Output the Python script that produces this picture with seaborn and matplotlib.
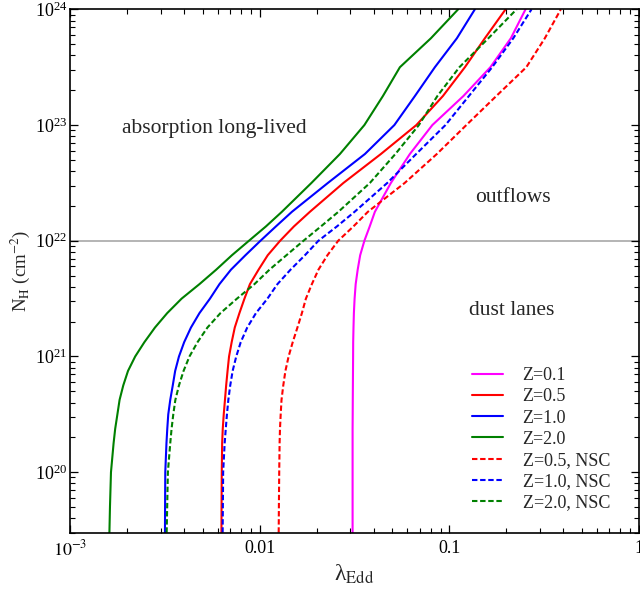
import numpy as np
import pandas as pd
import matplotlib
matplotlib.use("Agg")
import matplotlib.pyplot as plt
import seaborn as sns

# Column density grid shared by all curves (cm^-2)
nh = [3.0e19, 5.0e19, 1.0e20, 1.78e20, 2.37e20, 3.16e20, 4.22e20, 5.62e20,
      7.50e20, 1.0e21, 1.33e21, 1.78e21, 2.37e21, 3.16e21, 4.22e21, 5.62e21,
      7.50e21, 1.0e22, 1.33e22, 1.78e22, 3.16e22, 5.62e22, 1.0e23, 1.78e23,
      3.16e23, 5.62e23, 1.0e24]

# Effective Eddington ratio at each column density
lam_z01 = [0.03090, 0.03090, 0.03090, 0.03090, 0.03090, 0.03094, 0.03097,
           0.03101, 0.03105, 0.03109, 0.03112, 0.03124, 0.03139, 0.03166,
           0.03208, 0.03287, 0.03388, 0.03566, 0.03804, 0.04051, 0.04920,
           0.06197, 0.08144, 0.1187, 0.1648, 0.2113, 0.2526]
lam_z05 = [0.006281, 0.006288, 0.006304, 0.006334, 0.006381, 0.006458,
           0.006555, 0.006650, 0.006764, 0.006888, 0.007111, 0.007384,
           0.007813, 0.008305, 0.008878, 0.009855, 0.01102, 0.01281, 0.01515,
           0.01840, 0.02764, 0.04358, 0.06706, 0.09253, 0.1209, 0.1541, 0.1982]
lam_z10 = [0.003162, 0.003166, 0.003174, 0.003220, 0.003252, 0.003291,
           0.003372, 0.003476, 0.003579, 0.003748, 0.003993, 0.004337,
           0.004808, 0.005462, 0.006131, 0.007047, 0.008406, 0.01009, 0.01217,
           0.01479, 0.02289, 0.03589, 0.05133, 0.06586, 0.08395, 0.1097, 0.1365]
lam_z20 = [0.001610, 0.001621, 0.001641, 0.001694, 0.001727, 0.001774,
           0.001822, 0.001905, 0.002018, 0.002202, 0.002463, 0.002801,
           0.003249, 0.003869, 0.004808, 0.005888, 0.007134, 0.008770, 0.01078,
           0.01309, 0.01874, 0.02649, 0.03566, 0.04465, 0.05489, 0.08000, 0.1114]
lam_z05_nsc = [0.01259, 0.01262, 0.01267, 0.01273, 0.01279, 0.01290, 0.01303,
               0.01331, 0.01366, 0.01420, 0.01493, 0.01581, 0.01669, 0.01752,
               0.01884, 0.02040, 0.02276, 0.02594, 0.03121, 0.03722, 0.05820,
               0.08600, 0.1231, 0.1770, 0.2550, 0.3193, 0.3878]
lam_z10_nsc = [0.006373, 0.006389, 0.006412, 0.006531, 0.006619, 0.006714,
               0.006829, 0.006988, 0.007195, 0.007517, 0.007939, 0.008592,
               0.009550, 0.01098, 0.01240, 0.01453, 0.01732, 0.02040, 0.02554,
               0.03166, 0.04710, 0.06689, 0.09550, 0.1269, 0.1684, 0.2176, 0.2716]
lam_z20_nsc = [0.003228, 0.003248, 0.003276, 0.003372, 0.003426, 0.003498,
               0.003588, 0.003748, 0.003963, 0.004258, 0.004697, 0.005299,
               0.006205, 0.007581, 0.009378, 0.01125, 0.01383, 0.01701, 0.02103,
               0.02601, 0.03813, 0.05196, 0.06914, 0.08653, 0.1131, 0.1608, 0.2265]

labels = ["Z=0.1", "Z=0.5", "Z=1.0", "Z=2.0",
          "Z=0.5, NSC", "Z=1.0, NSC", "Z=2.0, NSC"]
series = [lam_z01, lam_z05, lam_z10, lam_z20,
          lam_z05_nsc, lam_z10_nsc, lam_z20_nsc]
colors = ["#ff00ff", "#ff0000", "#0000ff", "#008000",
          "#ff0000", "#0000ff", "#008000"]
dashed = [False, False, False, False, True, True, True]

region_text = ["absorption long-lived", "outflows", "dust lanes"]
xtick_vals = [1e-3, 1e-2, 1e-1, 1.0]
xtick_text = ["$10^{-3}$", "0.01", "0.1", "1"]

sns.set_theme(style="ticks")
plt.rcParams["font.family"] = ["Liberation Serif", "DejaVu Serif"]
plt.rcParams["mathtext.fontset"] = "stix"

fig = plt.figure(figsize=(6.4, 5.9), dpi=100)
ax = fig.add_axes([0.1097, 0.0971, 0.8884, 0.8871])

for lam, lab, col, dsh in zip(series, labels, colors, dashed):
    df = pd.DataFrame({"lam": lam, "nh": nh})
    ls = (0, (2.6, 1.3)) if dsh else "-"
    sns.lineplot(data=df, x="lam", y="nh", sort=False, estimator=None,
                 color=col, linestyle=ls, linewidth=1.5, label=lab, ax=ax)

ax.axhline(1e22, color="#a0a0a0", linewidth=1.1, zorder=0)

ax.set_xscale("log")
ax.set_yscale("log")
ax.set_xlim(1e-3, 1.0)
ax.set_ylim(3e19, 1e24)
ax.set_xticks(xtick_vals)
ax.set_xticklabels(xtick_text)

for side in ["left", "right", "top", "bottom"]:
    ax.spines[side].set_visible(True)
    ax.spines[side].set_color("black")
    ax.spines[side].set_linewidth(1.2)

ax.tick_params(which="both", direction="in", top=True, right=True,
               colors="black", labelsize=13)
ax.tick_params(which="major", length=6, width=0.9)
ax.tick_params(which="minor", length=3.5, width=0.8)
ax.tick_params(axis="y", which="major", pad=2)
ax.tick_params(axis="x", which="major", pad=5)

ax.set_xlabel(r"λ$_{\rm Edd}$", fontsize=17, labelpad=2)
ax.set_ylabel(r"N$_{\rm H}$ (cm$^{-2}$)", fontsize=13.5, labelpad=2)

ax.text(0.091, 0.773, region_text[0], transform=ax.transAxes,
        fontsize=15.5, ha="left", va="center")
ax.text(0.779, 0.641, region_text[1], transform=ax.transAxes,
        fontsize=15.5, ha="center", va="center")
ax.text(0.777, 0.425, region_text[2], transform=ax.transAxes,
        fontsize=15.5, ha="center", va="center")

ax.legend(loc="lower left", bbox_to_anchor=(0.706, 0.041), frameon=False,
          fontsize=13, handlelength=1.72, handletextpad=1.1,
          labelspacing=0.23, borderpad=0, borderaxespad=0)

fig.savefig("out.png", dpi=100)
